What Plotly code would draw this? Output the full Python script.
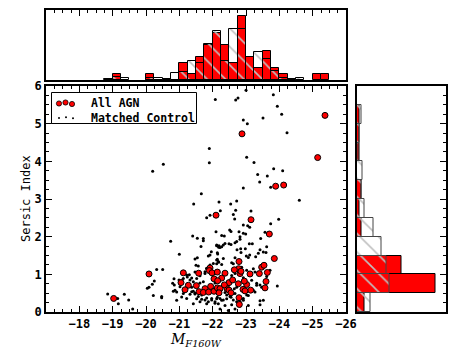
import plotly.graph_objects as go

# ---------------- data ----------------
agn_mag = [-25.37, -22.88, -25.15, -23.89, -24.13, -22.10, -23.15, -23.70, -23.85, -22.79,
           -20.09, -21.12, -21.58, -21.92, -21.90, -21.98, -22.04, -22.14, -21.27, -21.17,
           -21.51, -21.77, -21.59, -21.72, -21.88, -22.04, -21.94, -22.14, -23.47, -23.54,
           -22.78, -23.12, -23.40, -23.64, -23.60, -23.57, -22.37, -22.27, -22.15, -22.82,
           -22.49, -22.77, -23.02, -22.43, -22.49, -22.55, -22.91, -23.14, -22.97, -22.22,
           -22.19, -22.79, -22.80, -19.03, -21.05, -22.35, -22.60, -22.65, -22.85, -22.95]
agn_sersic = [5.22, 4.73, 4.10, 3.34, 3.37, 2.57, 2.45, 2.07, 1.42, 1.34,
              1.01, 1.04, 1.03, 1.17, 1.10, 1.04, 0.88, 1.06, 0.71, 0.59,
              0.70, 0.62, 0.54, 0.52, 0.53, 0.55, 0.68, 0.64, 1.19, 1.24,
              1.15, 1.01, 1.02, 1.05, 0.81, 0.64, 1.03, 0.90, 0.83, 1.02,
              0.78, 0.75, 0.73, 0.62, 0.58, 0.51, 0.60, 0.58, 0.56, 0.62,
              0.51, 0.38, 0.20, 0.36, 0.78, 0.72, 0.85, 1.12, 1.08, 0.82]

ctrl_mag = [
    -22.08, -22.69, -22.76, -23.00, -23.82, -23.94, -24.07, -23.51, -22.92, -23.04,
    -24.23, -21.90, -20.52, -20.20, -21.90, -23.02, -23.24, -23.83, -24.10, -23.35,
    -23.64, -23.41, -23.74, -22.92, -21.66, -24.60, -22.19, -22.54, -22.72, -21.43,
    -21.82, -20.74, -21.40, -21.54, -21.72, -21.72, -21.65, -22.12, -22.18, -21.96,
    -21.92, -22.14, -21.00, -21.54, -21.47, -21.87, -22.14, -22.18,
    -22.23, -22.69, -23.15, -22.62, -22.66, -23.74, -23.98, -22.92, -23.05, -23.11,
    -22.51, -22.55, -22.79, -22.99, -23.57, -22.27, -22.35, -22.10, -23.44, -22.82,
    -22.67, -22.49, -22.55, -23.10, -23.19, -22.12, -22.19, -22.22, -23.62, -22.73,
    -22.84, -22.98, -22.85, -23.52, -23.60, -22.15, -23.11, -23.01, -23.07, -23.29,
    -22.67, -22.32, -22.57, -23.55, -22.17,
    -18.85, -19.35, -19.48, -19.17, -19.15, -19.60,
    -20.32, -20.50, -20.84, -20.25, -20.19, -20.09, -20.22, -20.47, -20.82, -20.87,
    -20.92, -21.02, -20.99, -21.07, -21.24, -21.30, -21.37, -21.47, -21.77, -21.50,
    -21.57, -21.82, -21.22, -21.37, -21.42, -21.47, -21.32, -21.12, -21.07, -21.22,
    -21.52, -21.67, -21.82, -21.97, -22.14, -21.62, -21.82, -22.07, -21.42, -20.92,
    -22.12, -22.07, -21.72, -21.62,
    -22.12, -22.27, -22.62, -22.87, -23.02, -23.22, -23.27, -22.67, -22.57, -22.92,
    -23.17, -23.32, -23.47, -23.94, -22.72, -22.65, -22.37, -22.67, -23.07, -23.27,
    -22.12, -22.27, -22.42, -22.55, -22.72, -22.92, -22.17, -22.37, -22.57, -22.82,
    -23.07, -23.42, -23.52, -22.22, -22.47, -22.67, -23.42,
    -20.04, -20.47, -20.80, -20.85, -21.02, -21.12, -21.22, -21.32, -21.42, -21.52,
    -21.62, -21.77, -21.82, -21.92, -22.02, -22.12, -21.37, -21.47, -21.57, -21.67,
    -21.77, -21.87, -21.97, -22.07, -22.22, -22.32, -22.42, -22.52, -22.62, -22.82,
    -22.92, -23.02, -23.22, -23.32, -23.42, -23.62, -23.72, -22.27, -22.32, -22.37,
    -22.82, -22.92, -22.72, -23.37, -23.42, -21.92]
ctrl_sersic = [
    5.64, 5.63, 5.68, 5.89, 5.77, 5.46, 5.25, 5.15, 5.10, 5.00,
    4.76, 4.34, 3.92, 3.74, 3.96, 4.11, 3.97, 3.80, 3.75, 3.65,
    3.61, 3.45, 3.31, 3.29, 3.14, 2.97, 2.92, 2.87, 2.95, 2.87,
    2.50, 1.88, 2.02, 1.96, 1.95, 1.89, 1.74, 1.78, 1.72, 1.60,
    1.51, 1.57, 1.53, 1.44, 1.41, 1.49, 1.40, 1.32,
    2.69, 2.70, 2.68, 2.59, 2.47, 2.34, 2.46, 2.31, 2.29, 2.25,
    2.18, 2.14, 2.13, 2.07, 2.12, 2.03, 2.02, 2.13, 1.95, 1.93,
    1.84, 1.81, 1.79, 1.81, 1.81, 1.76, 1.76, 1.71, 1.73, 1.65,
    1.68, 1.68, 1.58, 1.59, 1.58, 1.54, 1.51, 1.49, 1.45, 1.47,
    1.44, 1.42, 1.31, 1.28, 1.34,
    0.48, 0.47, 0.32, 0.22, 0.36, 0.08,
    1.13, 1.13, 0.88, 0.82, 0.74, 0.66, 0.44, 0.41, 0.55, 0.58,
    0.53, 0.67, 0.85, 0.84, 0.93, 0.99, 0.90, 1.06, 1.02, 1.24,
    1.22, 1.15, 0.62, 0.66, 0.55, 0.48, 0.47, 0.49, 0.40, 0.36,
    0.35, 0.34, 0.37, 0.36, 0.39, 0.27, 0.22, 0.27, 0.22, 0.31,
    0.80, 0.77, 0.80, 0.77,
    1.28, 1.26, 1.28, 1.19, 1.11, 1.15, 1.06, 1.02, 0.97, 0.91,
    0.84, 0.71, 0.66, 0.69, 0.66, 0.62, 0.52, 0.49, 0.44, 0.53,
    0.35, 0.31, 0.35, 0.39, 0.27, 0.31, 0.22, 0.17, 0.19, 0.16,
    0.17, 0.19, 0.31, 0.08, 0.04, 0.08, 0.30,
    0.63, 0.38, 0.76, 0.72, 0.76, 0.89, 0.98, 0.85, 0.80, 0.89,
    0.96, 1.07, 1.16, 1.25, 1.29, 1.38, 0.54, 0.50, 0.41, 0.45,
    0.32, 0.27, 0.32, 0.23, 0.36, 0.32, 0.45, 0.41, 0.32, 0.27,
    0.36, 0.45, 0.58, 0.76, 0.72, 0.94, 1.11, 1.73, 1.78, 1.82,
    2.00, 2.09, 1.87, 1.56, 1.65, 2.57]

# magnitude histogram (0.25 mag bins, bin centres)
mag_bin_centres = [-18.875, -19.125, -19.375, -20.125, -20.375, -20.625, -20.875, -21.125,
                   -21.375, -21.625, -21.875, -22.125, -22.375, -22.625, -22.875, -23.125,
                   -23.375, -23.625, -23.875, -24.125, -24.375, -24.625, -25.125, -25.375]
agn_mag_hist = [0, 1, 0, 1, 0, 0, 0, 3, 1, 4, 6, 8, 6, 3, 11, 4, 2, 5, 2, 1, 0, 0, 1, 1]
ctrl_mag_hist = [0.15, 0.5, 0.3, 0.4, 0.3, 0.2, 1.15, 1.3, 3.3, 2.9, 6.1, 8.35, 3.3, 8.75,
                 8.7, 3.9, 4.75, 3.55, 1.55, 0.4, 0.1, 0.3, 0, 0]

# Sersic index histogram (0.5 bins, bin centres)
sersic_bin_centres = [0.25, 0.75, 1.25, 1.75, 2.25, 2.75, 3.25, 3.75, 4.25, 4.75, 5.25, 5.75]
agn_sersic_hist = [3, 30, 17, 0, 2, 1, 2, 0, 1, 1, 1, 0]
ctrl_sersic_hist = [5.3, 12.5, 11.3, 9.5, 6.5, 3.2, 1.8, 2.1, 0.9, 1.0, 1.8, 0]

x_ticks = [-18, -19, -20, -21, -22, -23, -24, -25, -26]
y_ticks = [0, 1, 2, 3, 4, 5, 6]
legend_labels = ["All AGN", "Matched Control"]


def nz(v):
    return [a if a > 0 else None for a in v]


# the page body adds an 8 px margin, so the figure is laid out 8 px in from the window
OFF = 8
W, H = 463 - OFF, 348 - OFF


def px_x(sx):
    return (sx - OFF) / W


def px_y(sy):
    return (H - (sy - OFF)) / H


main_x = [px_x(46), px_x(346)]
main_y = [px_y(312), px_y(86)]
top_y = [px_y(80), px_y(10)]
right_x = [px_x(356.5), px_x(446)]

MONO = "DejaVu Sans Mono"
hatch = dict(shape="\\", fgcolor="#c0c0c0", bgcolor="rgba(0,0,0,0)", size=13, solidity=0.12)

fig = go.Figure()

# main scatter
fig.add_trace(go.Scatter(x=ctrl_mag, y=ctrl_sersic, mode="markers", name=legend_labels[1],
                         marker=dict(color="black", size=3, line=dict(width=0)),
                         xaxis="x", yaxis="y", showlegend=False))
fig.add_trace(go.Scatter(x=agn_mag, y=agn_sersic, mode="markers", name=legend_labels[0],
                         marker=dict(color="red", size=6, line=dict(color="black", width=1)),
                         xaxis="x", yaxis="y", showlegend=False))

# top histogram
fig.add_trace(go.Bar(x=mag_bin_centres, y=nz(agn_mag_hist), width=0.25,
                     marker=dict(color="red", line=dict(color="black", width=1)),
                     xaxis="x2", yaxis="y2", showlegend=False))
fig.add_trace(go.Bar(x=mag_bin_centres, y=nz(ctrl_mag_hist), width=0.25,
                     marker=dict(color="rgba(0,0,0,0)", pattern=hatch,
                                 line=dict(color="black", width=1)),
                     xaxis="x2", yaxis="y2", showlegend=False))

# right histogram
fig.add_trace(go.Bar(y=sersic_bin_centres, x=nz(agn_sersic_hist), width=0.5, orientation="h",
                     marker=dict(color="red", line=dict(color="black", width=1)),
                     xaxis="x3", yaxis="y3", showlegend=False))
fig.add_trace(go.Bar(y=sersic_bin_centres, x=nz(ctrl_sersic_hist), width=0.5, orientation="h",
                     marker=dict(color="rgba(0,0,0,0)", pattern=hatch,
                                 line=dict(color="#444444", width=1)),
                     xaxis="x3", yaxis="y3", showlegend=False))

tickfont = dict(family=MONO, size=12, color="black", weight="bold")
frame = dict(showline=True, linecolor="black", linewidth=1.5, mirror=True,
             showgrid=False, zeroline=False, automargin=False)

fig.update_layout(
    template="none",
    width=W, height=H, autosize=False,
    margin=dict(l=0, r=0, t=0, b=0, pad=0),
    paper_bgcolor="white", plot_bgcolor="white",
    barmode="overlay", bargap=0,
    showlegend=False,
    xaxis=dict(domain=main_x, range=[-17, -26], anchor="y", tickmode="array",
               tickvals=x_ticks, ticks="inside", ticklen=6, tickwidth=1, tickcolor="black",
               minor=dict(dtick=0.25, ticks="inside", ticklen=3, tickcolor="black"),
               tickfont=tickfont, **{**frame, "mirror": "allticks"}),
    yaxis=dict(domain=main_y, range=[0, 6], anchor="x", tickmode="array",
               tickvals=y_ticks, ticks="inside", ticklen=6, tickwidth=1, tickcolor="black",
               minor=dict(dtick=0.25, ticks="inside", ticklen=3, tickcolor="black"),
               tickfont=tickfont, **{**frame, "mirror": "allticks"}),
    xaxis2=dict(domain=main_x, range=[-17, -26], anchor="y2", side="top",
                tickmode="array", tickvals=x_ticks, ticks="inside", ticklen=6,
                tickcolor="black", showticklabels=False,
                minor=dict(dtick=0.25, ticks="inside", ticklen=3, tickcolor="black"),
                **frame),
    yaxis2=dict(domain=top_y, range=[0, 12], anchor="x2", ticks="",
                showticklabels=False, **frame),
    xaxis3=dict(domain=right_x, range=[0, 34], anchor="y3", ticks="",
                showticklabels=False, **frame),
    yaxis3=dict(domain=main_y, range=[0, 6], anchor="x3", side="right",
                tickmode="array", tickvals=y_ticks, ticks="inside", ticklen=6,
                tickcolor="black", showticklabels=False,
                minor=dict(dtick=0.25, ticks="inside", ticklen=3, tickcolor="black"),
                **frame),
)

# ---- legend box (matplotlib style, three sample points per entry) ----
fig.add_shape(type="rect", xref="paper", yref="paper",
              x0=px_x(51.5), x1=px_x(196.5), y0=px_y(123.5), y1=px_y(92.5),
              line=dict(color="black", width=1), fillcolor="white", layer="above")
for cx, cy in [(59, 103.5), (65.5, 102.5), (72, 104)]:
    r = 2.6
    fig.add_shape(type="circle", xref="paper", yref="paper",
                  x0=px_x(cx - r), x1=px_x(cx + r), y0=px_y(cy + r), y1=px_y(cy - r),
                  fillcolor="red", line=dict(color="black", width=0.8), layer="above")
for cx, cy in [(59, 118), (66, 117.3), (73, 118.3)]:
    r = 1.0
    fig.add_shape(type="circle", xref="paper", yref="paper",
                  x0=px_x(cx - r), x1=px_x(cx + r), y0=px_y(cy + r), y1=px_y(cy - r),
                  fillcolor="black", line=dict(color="black", width=0), layer="above")
for label, cy in zip(legend_labels, [103.3, 117.8]):
    fig.add_annotation(text=label, xref="paper", yref="paper", x=px_x(88.5), y=px_y(cy),
                       xanchor="left", yanchor="middle", showarrow=False,
                       font=dict(family=MONO, size=11.5, color="black", weight="bold"))

fig.add_annotation(text="<i>M</i><sub><i>F160W</i></sub>", xref="paper", yref="paper",
                   x=px_x(196), y=px_y(340), showarrow=False, yanchor="middle",
                   font=dict(family="DejaVu Serif", size=14, color="black"))
fig.add_annotation(text="Sersic Index", xref="paper", yref="paper",
                   x=px_x(17), y=px_y(199), showarrow=False, textangle=-90,
                   font=dict(family=MONO, size=12, color="black"))

fig.write_html("out.html")
